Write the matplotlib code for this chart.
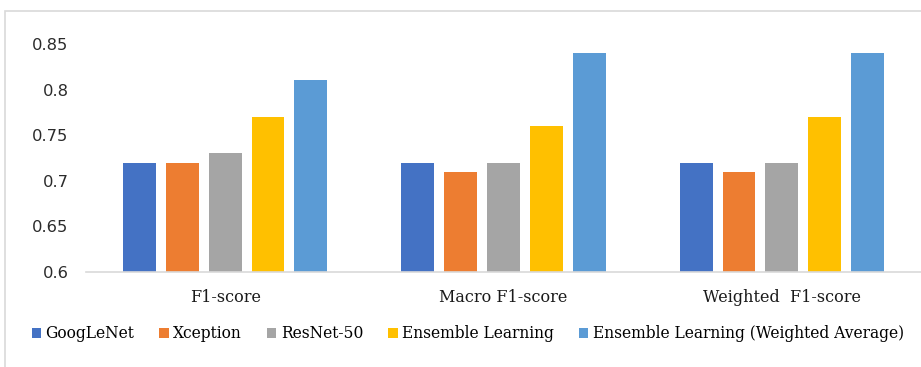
import numpy as np
import matplotlib.pyplot as plt
from matplotlib.patches import Rectangle, Patch

metrics = ['F1-score', 'Macro F1-score', 'Weighted  F1-score']
models = ['GoogLeNet', 'Xception', 'ResNet-50', 'Ensemble Learning',
          'Ensemble Learning (Weighted Average)']
colors = ['#4472C4', '#ED7D31', '#A5A5A5', '#FFC000', '#5B9BD5']

googlenet = [0.72, 0.72, 0.72]
xception = [0.72, 0.71, 0.71]
resnet50 = [0.73, 0.72, 0.72]
ensemble = [0.77, 0.76, 0.77]
ensemble_weighted = [0.81, 0.84, 0.84]
series = [googlenet, xception, resnet50, ensemble, ensemble_weighted]

yticks = [0.6, 0.65, 0.7, 0.75, 0.8, 0.85]

fig = plt.figure(figsize=(9.21, 3.67), dpi=100)
ax = fig.add_axes([86 / 921, 95 / 367, 835 / 921, 228 / 367])

# chart frame
fig.patches.append(Rectangle((5 / 921, -0.1), 1.0, (367 - 11) / 367 + 0.1,
                             transform=fig.transFigure, fill=False,
                             edgecolor='#D9D9D9', linewidth=1.2))

x = np.arange(len(metrics))
step = 0.154
width = 0.118
for i, (vals, c) in enumerate(zip(series, colors)):
    ax.bar(x + (i - 2) * step, vals, width, bottom=0,
           color=c, label=models[i], zorder=2)

ax.set_xlim(-0.5, len(metrics) - 0.5)
ax.set_ylim(0.6, 0.85)
ax.set_yticks(yticks)
ax.set_yticklabels([f'{t:g}' for t in yticks], fontsize=11.8,
                   family='DejaVu Sans', color='#2b2b2b')
ax.set_xticks(x)
ax.set_xticklabels(metrics, fontsize=11.5, family='DejaVu Serif',
                   color='#1a1a1a')
ax.tick_params(axis='both', length=0)
ax.tick_params(axis='y', pad=12.5)
ax.tick_params(axis='x', pad=12)

for s in ['top', 'right', 'left']:
    ax.spines[s].set_visible(False)
ax.spines['bottom'].set_color('#D9D9D9')
ax.spines['bottom'].set_linewidth(1.2)

handles = [Patch(facecolor=c) for c in colors]
fig.legend(handles, models, loc='center', bbox_to_anchor=(0.508, 1 - 334 / 367),
           ncol=5, frameon=False, handlelength=0.6, handleheight=0.6,
           handletextpad=0.3, columnspacing=1.6,
           prop={'family': 'DejaVu Serif', 'size': 11.2})

fig.savefig('out.png', dpi=100)
